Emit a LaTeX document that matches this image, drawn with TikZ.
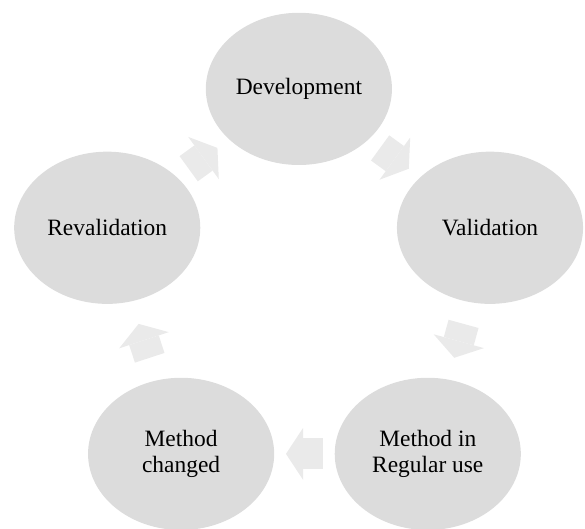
\documentclass[tikz,border=0pt]{standalone}
\usepackage{fontspec}
\setmainfont{Liberation Serif}
\usetikzlibrary{shapes.geometric,arrows.meta,calc}

\definecolor{stagegray}{RGB}{220,220,220}
\definecolor{flowgray}{RGB}{234,234,234}

\begin{document}
\begin{tikzpicture}[stage/.style={ellipse, fill=stagegray, minimum width=3.35cm,
                        minimum height=2.74cm, inner sep=0pt, align=center,
                        font=\fontsize{12}{13.5}\selectfont},
                    flow/.style={draw=flowgray, line width=0.56cm,
                        -{Triangle[width=0.94cm, length=0.31cm, line width=0pt]}}]
\useasboundingbox (0,0) rectangle (10.53,9.52);

% the five stages of the cycle
\node[stage] (dev) at (5.38,7.92) {Development};
\node[stage] (val) at (8.82,5.42) {Validation};
\node[stage] (reg) at (7.70,1.35) {Method in\\Regular use};
\node[stage] (chg) at (3.26,1.35) {Method\\changed};
\node[stage] (rev) at (1.93,5.42) {Revalidation};

% block arrows half way between neighbours
\foreach \from/\to in {dev/val, val/reg, reg/chg, chg/rev, rev/dev}
    \draw[flow] ($(\from)!0.425!(\to)$) -- ($(\from)!0.575!(\to)$);
\end{tikzpicture}
\end{document}
